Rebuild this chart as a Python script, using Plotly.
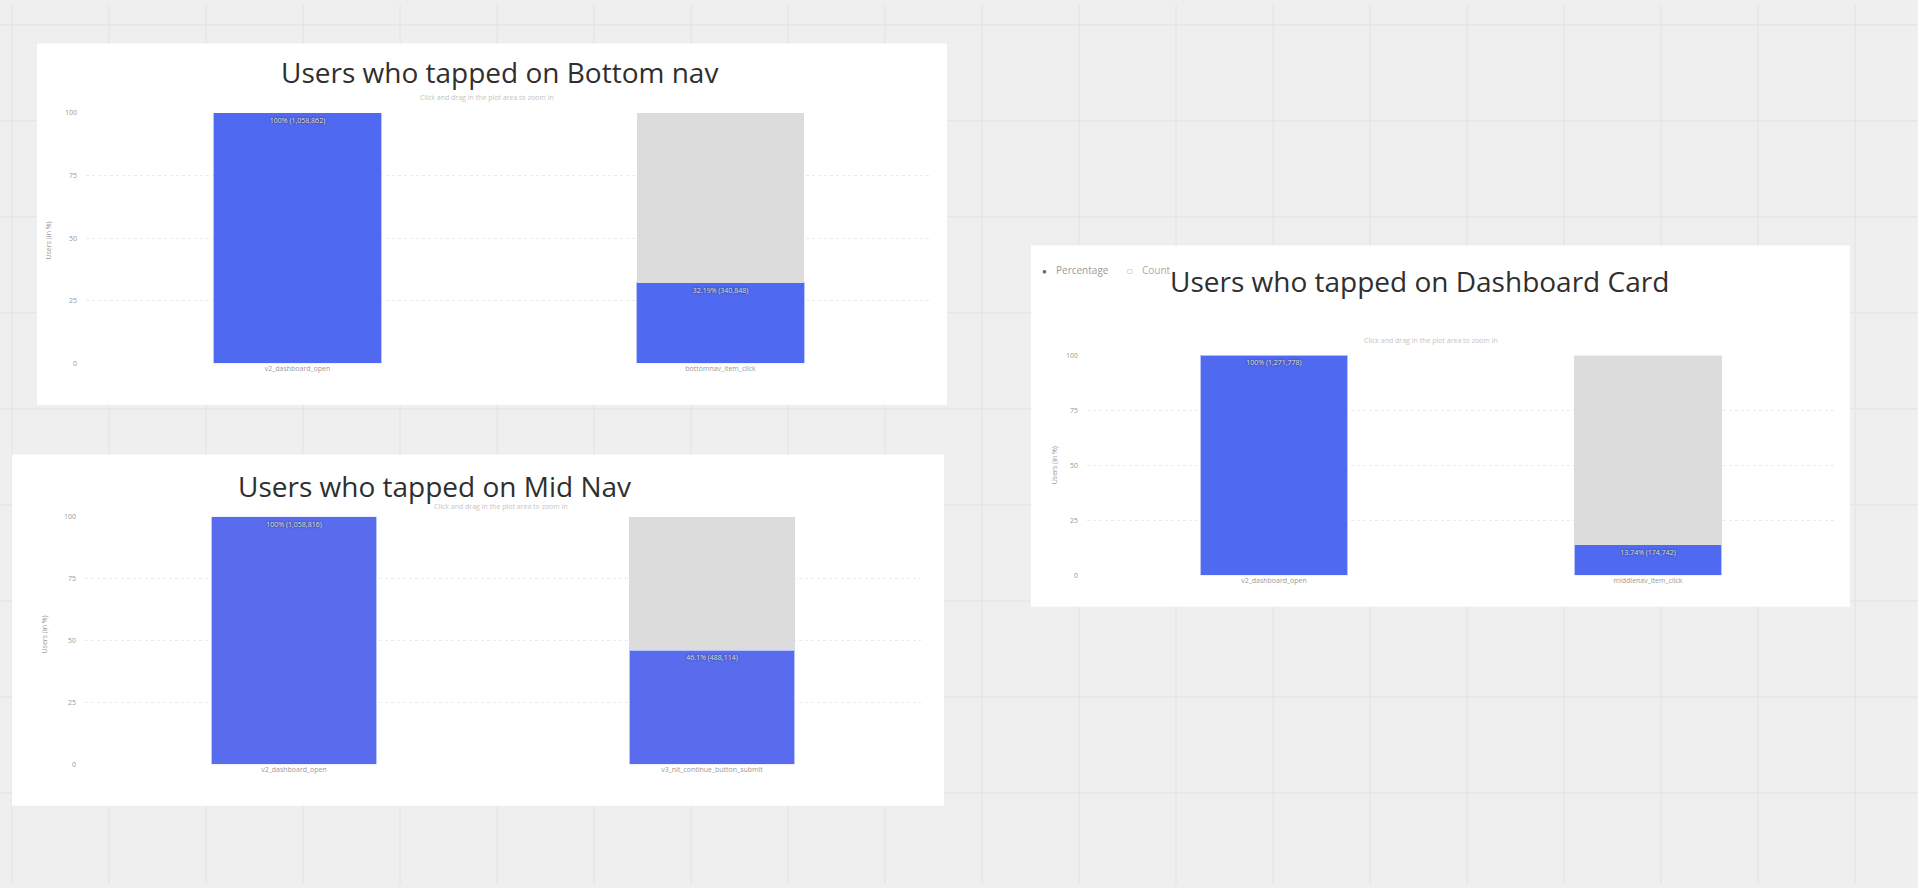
import plotly.graph_objects as go

W, H = 1918, 888

# ---- data ----
bottom_cats = ["v2_dashboard_open", "bottomnav_item_click"]
bottom_pct = [100, 32.19]
bottom_cnt = ["1,058,862", "340,848"]

mid_cats = ["v2_dashboard_open", "v3_nit_continue_button_submit"]
mid_pct = [100, 46.1]
mid_cnt = ["1,058,816", "488,114"]

dash_cats = ["v2_dashboard_open", "middlenav_item_click"]
dash_pct = [100, 13.74]
dash_cnt = ["1,271,778", "174,742"]

titles = ["Users who tapped on Bottom nav", "Users who tapped on Mid Nav",
          "Users who tapped on Dashboard Card"]
y_ticks = [0, 25, 50, 75, 100]

BLUE = ["#5069f1", "#5a6cee", "#5069f1"]
GREY = "#dcdcdc"

def px(x):
    return x / W

def py(y):
    return 1 - y / H

# panel geometry (pixels): card box, plot box
cards = [(37, 39, 947, 404), (12, 454, 944, 809), (1031, 243, 1850, 608)]
plots = [(86, 109, 932, 362), (85, 517, 921, 767), (1087, 354, 1835, 576)]
title_pos = [(499, 68), (434, 486), (1419, 279)]
sub_pos = [(487, 93), (501, 507), (1431, 339)]
ytitle_pos = [(49, 238), (45, 636), (1054, 465)]

datasets = [(bottom_cats, bottom_pct, bottom_cnt),
            (mid_cats, mid_pct, mid_cnt),
            (dash_cats, dash_pct, dash_cnt)]

fig = go.Figure()
shapes = []
annotations = []

# whiteboard background grid
step = 97
x = 12
while x < W:
    shapes.append(dict(type="line", xref="paper", yref="paper", x0=px(x), x1=px(x),
                       y0=0, y1=1, line=dict(color="#e2e2e2", width=1), layer="below"))
    x += step
y = 20
while y < H:
    shapes.append(dict(type="line", xref="paper", yref="paper", x0=0, x1=1,
                       y0=py(y), y1=py(y), line=dict(color="#e2e2e2", width=1), layer="below"))
    y += step

for i, (cats, pct, cnt) in enumerate(datasets):
    n = "" if i == 0 else str(i + 1)
    c = cards[i]
    shapes.append(dict(type="rect", xref="paper", yref="paper",
                       x0=px(c[0]), x1=px(c[2]), y0=py(c[3]), y1=py(c[1]),
                       fillcolor="white", line=dict(width=0), layer="below"))
    labels = [f"{p:g}% ({k})" for p, k in zip(pct, cnt)]
    fig.add_trace(go.Bar(x=cats, y=pct, xaxis="x" + n, yaxis="y" + n,
                         marker=dict(color=BLUE[i], line=dict(color="#b9c4fa", width=1)),
                         text=labels, textposition="inside", insidetextanchor="end",
                         textangle=0,
                         textfont=dict(size=7, color="#e6e6e6", family="Open Sans",
                                       shadow="0px 0px 2px #111"),
                         showlegend=False, hoverinfo="skip"))
    fig.add_trace(go.Bar(x=cats, y=[100 - p for p in pct], xaxis="x" + n, yaxis="y" + n,
                         marker=dict(color=GREY, line=dict(width=0)),
                         showlegend=False, hoverinfo="skip"))
    p = plots[i]
    fig.layout["xaxis" + n] = dict(domain=[px(p[0]), px(p[2])], anchor="y" + n,
                                   showgrid=False, zeroline=False, showline=False,
                                   tickfont=dict(size=7, color="#999", family="Open Sans"),
                                   fixedrange=True)
    fig.layout["yaxis" + n] = dict(domain=[py(p[3]), py(p[1])], anchor="x" + n,
                                   range=[0, 100], tickvals=y_ticks,
                                   showgrid=True, gridcolor="#ebebeb", griddash="dot",
                                   zeroline=False, showline=False, ticklabelstandoff=8,
                                   tickfont=dict(size=7, color="#999", family="Open Sans"),
                                   fixedrange=True)
    tx, ty = title_pos[i]
    annotations.append(dict(text=titles[i], xref="paper", yref="paper", x=px(tx), y=py(ty),
                            xanchor="center", yanchor="middle", showarrow=False,
                            font=dict(size=28, color="#2f2f2f", family="Open Sans")))
    sx, sy = sub_pos[i]
    annotations.append(dict(text="Click and drag in the plot area to zoom in", xref="paper",
                            yref="paper", x=px(sx), y=py(sy), xanchor="center",
                            yanchor="middle", showarrow=False,
                            font=dict(size=7, color="#c4c4c4", family="Open Sans")))
    yx, yy = ytitle_pos[i]
    annotations.append(dict(text="Users (in %)", xref="paper", yref="paper", x=px(yx),
                            y=py(yy), xanchor="center", yanchor="middle", showarrow=False,
                            textangle=-90,
                            font=dict(size=7, color="#999", family="Open Sans")))

# radio toggle on the dashboard card
toggle = [("●", 1040, "#666", 8), ("Percentage", 1054, "#999", 10),
          ("○", 1124, "#bbb", 12), ("Count", 1140, "#aaa", 10)]
for txt, tx, col, sz in toggle:
    annotations.append(dict(text=txt, xref="paper", yref="paper", x=px(tx), y=py(268),
                            xanchor="left", yanchor="middle", showarrow=False,
                            font=dict(size=sz, color=col, family="Open Sans")))

fig.update_layout(width=W, height=H, margin=dict(l=0, r=0, t=0, b=0),
                  paper_bgcolor="#efefef", plot_bgcolor="rgba(0,0,0,0)",
                  barmode="stack", bargap=0.605, shapes=shapes, annotations=annotations,
                  showlegend=False)

fig.write_html("out.html", config={"displayModeBar": False})
